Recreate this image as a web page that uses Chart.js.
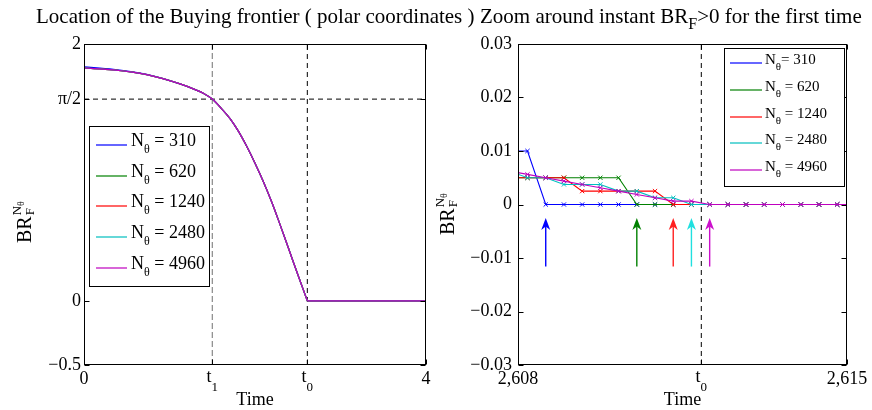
<!DOCTYPE html>
<html>
<head>
<meta charset="utf-8">
<script src="https://cdn.jsdelivr.net/npm/chart.js@4"></script>
<style>
  body { margin: 0; background: #fff; }
  #wrap { position: relative; width: 872px; height: 410px; }
  canvas { position: absolute; top: 0; }
</style>
</head>
<body>
<div id="wrap">
  <canvas id="chart-left" width="480" height="410" style="left:0"></canvas>
  <canvas id="chart-right" width="436" height="410" style="left:436px"></canvas>
</div>
<script>
// series
const seriesN = ['310', '620', '1240', '2480', '4960'];
const seriesColors = ['#0000ff', '#008000', '#ff0000', '#00bfbf', '#bf00bf'];

const t1 = 1.5;
const t0 = 2.6119;

// left plot : whole trajectory
const leftTime  = [0, 0.343, 0.733, 1.123, 1.3, 1.4, 1.5, 1.6, 1.708, 1.8, 1.903, 2.0, 2.097, 2.2, 2.292, 2.37, 2.448, 2.53, 2.6119];
const leftBR    = [1.813, 1.798, 1.761, 1.689, 1.645, 1.615, 1.571, 1.503, 1.419, 1.327, 1.203, 1.072, 0.930, 0.762, 0.595, 0.450, 0.302, 0.150, 0];
const leftBR310 = [1.822, 1.803, 1.763, 1.689, 1.645, 1.615, 1.571, 1.503, 1.419, 1.327, 1.203, 1.072, 0.930, 0.762, 0.595, 0.450, 0.302, 0.150, 0];
const leftTailTime = [2.6119, 4];
const leftTail = [0, 0];
const leftXTicks = [0, t1, t0, 4];
const leftXLabels = ['0', '', '', '4'];
const leftYTicks = [-0.5, 0, Math.PI / 2, 2];
const leftYLabels = ['\u22120.5', '0', '\u03c0/2', '2'];

// right plot : zoom around t0
const rightTime = [2.607814, 2.608202, 2.608590, 2.608977, 2.609365, 2.609752, 2.610140, 2.610528, 2.610915, 2.611303,
                   2.611690, 2.612078, 2.612466, 2.612853, 2.613241, 2.613628, 2.614016, 2.614404, 2.614791, 2.615179];
const br310  = [0.01, 0.01, 0, 0, 0, 0, 0, 0, 0, 0, 0, 0, 0, 0, 0, 0, 0, 0, 0, 0];
const br620  = [0.005, 0.005, 0.005, 0.005, 0.005, 0.005, 0.005, 0, 0, 0, 0, 0, 0, 0, 0, 0, 0, 0, 0, 0];
const br1240 = [0.005, 0.005, 0.005, 0.005, 0.0025, 0.0025, 0.0025, 0.0025, 0.0025, 0, 0, 0, 0, 0, 0, 0, 0, 0, 0, 0];
const br2480 = [0.00625, 0.005, 0.005, 0.00375, 0.00375, 0.00375, 0.0025, 0.0025, 0.00125, 0.00125, 0, 0, 0, 0, 0, 0, 0, 0, 0, 0];
const br4960 = [0.00625, 0.005625, 0.005, 0.004375, 0.00375, 0.003125, 0.0025, 0.001875, 0.00125, 0.000625, 0.000625, 0, 0, 0, 0, 0, 0, 0, 0, 0];
const rightXTicks = [2.608, t0, 2.615];
const rightXLabels = ['2,608', '', '2,615'];
const rightYTicks = [-0.03, -0.02, -0.01, 0, 0.01, 0.02, 0.03];
const rightYLabels = ['\u22120.03', '\u22120.02', '\u22120.01', '0', '0.01', '0.02', '0.03'];

// arrows : first instant where BR > 0
const arrowTime = [2.608590, 2.610528, 2.611303, 2.611690, 2.612078];
const arrowColors = ['#0000ff', '#008000', '#ff2020', '#20e0e0', '#cc10cc'];
const arrowFrom = -0.0116;
const arrowTo = -0.0025;

const FONT = "'Liberation Serif', 'Times New Roman', serif";

function pts(xs, ys) {
    return xs.map((x, i) => ({ x: x, y: ys[i] }));
}

function piece(ctx, x, y, text, size) {
    ctx.font = size + 'px ' + FONT;
    ctx.fillText(text, x, y);
    return ctx.measureText(text).width;
}

// box + inward tick marks
const framePlugin = {
    id: 'frame',
    afterDatasetsDraw(chart) {
        const ctx = chart.ctx;
        const a = chart.chartArea;
        const L = Math.round(a.left) + 0.5, R = Math.round(a.right) - 0.5;
        const T = Math.round(a.top) + 0.5, B = Math.round(a.bottom) - 0.5;
        ctx.save();
        ctx.strokeStyle = '#000';
        ctx.lineWidth = 1;
        ctx.strokeRect(L, T, R - L, B - T);
        ctx.beginPath();
        chart.scales.x.ticks.forEach(t => {
            const px = Math.round(chart.scales.x.getPixelForValue(t.value)) + 0.5;
            ctx.moveTo(px, B); ctx.lineTo(px, B - 5);
            ctx.moveTo(px, T); ctx.lineTo(px, T + 5);
        });
        chart.scales.y.ticks.forEach(t => {
            const py = Math.round(chart.scales.y.getPixelForValue(t.value)) + 0.5;
            ctx.moveTo(L, py); ctx.lineTo(L + 5, py);
            ctx.moveTo(R, py); ctx.lineTo(R - 5, py);
        });
        ctx.stroke();
        ctx.restore();
    }
};

// titles, axis labels with sub/superscripts, legend
const mathPlugin = {
    id: 'mathText',
    afterDraw(chart, args, o) {
        const ctx = chart.ctx;
        ctx.save();
        ctx.fillStyle = '#000';
        ctx.textBaseline = 'alphabetic';
        ctx.textAlign = 'left';

        // title
        let x = o.titleX;
        o.title.forEach(p => {
            x += piece(ctx, x, o.titleY + (p.dy || 0), p.text, p.size || 21);
        });

        // t ticks
        o.tTicks.forEach(tt => {
            ctx.font = '18px ' + FONT;
            const wt = ctx.measureText('t').width;
            ctx.font = '13px ' + FONT;
            const ws = ctx.measureText(tt.sub).width;
            const px = chart.scales.x.getPixelForValue(tt.value);
            const sx = px - (wt + ws) / 2;
            piece(ctx, sx, 382, 't', 18);
            piece(ctx, sx + wt, 391, tt.sub, 13);
        });

        // x label
        ctx.font = '18px ' + FONT;
        const xl = 'Time';
        const xc = (chart.chartArea.left + chart.chartArea.right) / 2;
        piece(ctx, xc - ctx.measureText(xl).width / 2, 405, xl, 18);

        // y label
        ctx.save();
        ctx.translate(o.ylabX, o.ylabY);
        ctx.rotate(-Math.PI / 2);
        const wBR = piece(ctx, 0, 0, 'BR', 20);
        const wN = piece(ctx, wBR + 1, -10, 'N', 13);
        piece(ctx, wBR + 1, 3, 'F', 13);
        piece(ctx, wBR + 1 + wN, -7, '\u03b8', 10);
        ctx.restore();

        // legend
        const lg = o.legend;
        ctx.fillStyle = '#fff';
        ctx.fillRect(lg.x, lg.y, lg.w, lg.h);
        ctx.strokeStyle = '#000';
        ctx.lineWidth = 1;
        ctx.strokeRect(lg.x + 0.5, lg.y + 0.5, lg.w, lg.h);
        seriesN.forEach((n, i) => {
            const y = lg.row0 + i * lg.step;
            ctx.strokeStyle = seriesColors[i];
            ctx.lineWidth = 1.2;
            ctx.beginPath();
            ctx.moveTo(lg.lineX0, Math.round(y));
            ctx.lineTo(lg.lineX1, Math.round(y));
            ctx.stroke();
            ctx.fillStyle = '#000';
            let tx = lg.textX;
            tx += piece(ctx, tx, y + 1, 'N', lg.size);
            tx += piece(ctx, tx, y + 1 + lg.subDrop, '\u03b8', lg.subSize);
            const eq = (lg.tightFirst && i === 0) ? '= ' + n : ' = ' + n;
            piece(ctx, tx, y + 1, eq, lg.size);
        });
        ctx.restore();
    }
};

// arrows under the zoom
const arrowPlugin = {
    id: 'arrows',
    afterDatasetsDraw(chart) {
        if (!chart.options.plugins.arrows || !chart.options.plugins.arrows.show) return;
        const ctx = chart.ctx;
        const xs = chart.scales.x, ys = chart.scales.y;
        ctx.save();
        arrowTime.forEach((t, i) => {
            const px = xs.getPixelForValue(t);
            const yb = ys.getPixelForValue(arrowFrom);
            const yt = ys.getPixelForValue(arrowTo);
            ctx.strokeStyle = arrowColors[i];
            ctx.fillStyle = arrowColors[i];
            ctx.lineWidth = 1.4;
            ctx.beginPath();
            ctx.moveTo(px, yb);
            ctx.lineTo(px, yt + 6);
            ctx.stroke();
            ctx.beginPath();
            ctx.moveTo(px, yt);
            ctx.lineTo(px - 4.5, yt + 12);
            ctx.lineTo(px, yt + 8.5);
            ctx.lineTo(px + 4.5, yt + 12);
            ctx.closePath();
            ctx.fill();
        });
        ctx.restore();
    }
};

function tickFont() {
    return { family: FONT, size: 18 };
}

// ---------- left chart ----------
const leftDatasets = [
    { data: pts([t1, t1], [-0.5, 2]), borderColor: '#707070', borderDash: [6, 3], borderWidth: 1, order: 10 },
    { data: pts([t0, t0], [-0.5, 2]), borderColor: '#000', borderDash: [5, 4], borderWidth: 1, order: 10 },
    { data: pts([0, 4], [Math.PI / 2, Math.PI / 2]), borderColor: '#000', borderDash: [5, 4], borderWidth: 1, order: 10 }
];
seriesN.forEach((n, i) => {
    leftDatasets.push({
        label: 'N = ' + n,
        data: pts(leftTime, i === 0 ? leftBR310 : leftBR),
        borderColor: seriesColors[i],
        cubicInterpolationMode: 'monotone',
        order: 4 - i
    });
    leftDatasets.push({
        data: pts(leftTailTime, leftTail),
        borderColor: seriesColors[i],
        order: 4 - i
    });
});

new Chart(document.getElementById('chart-left'), {
    type: 'line',
    data: { datasets: leftDatasets },
    options: {
        responsive: false,
        animation: false,
        devicePixelRatio: 1,
        layout: { padding: { top: 44, right: 54, left: 0, bottom: 0 } },
        elements: { point: { radius: 0 }, line: { borderWidth: 1.2 } },
        scales: {
            x: {
                type: 'linear', min: 0, max: 4,
                afterBuildTicks: s => { s.ticks = leftXTicks.map(v => ({ value: v })); },
                afterFit: s => { s.height = 45; },
                grid: { display: false, drawTicks: false },
                border: { display: false },
                ticks: { autoSkip: false, maxRotation: 0, padding: 3, color: '#000', font: tickFont(),
                         callback: (v, i) => leftXLabels[i] }
            },
            y: {
                type: 'linear', min: -0.5, max: 2,
                afterBuildTicks: s => { s.ticks = leftYTicks.map(v => ({ value: v })); },
                afterFit: s => { s.width = 84; },
                grid: { display: false, drawTicks: false },
                border: { display: false },
                ticks: { autoSkip: false, padding: 3, color: '#000', font: tickFont(),
                         callback: (v, i) => leftYLabels[i] }
            }
        },
        plugins: {
            legend: { display: false },
            tooltip: { enabled: false },
            mathText: {
                titleX: 36, titleY: 23,
                title: [{ text: 'Location of the Buying frontier ( polar coordinates )' }],
                tTicks: [{ value: t1, sub: '1' }, { value: t0, sub: '0' }],
                ylabX: 31, ylabY: 243,
                legend: { x: 89, y: 126, w: 120, h: 160, row0: 145, step: 30.7,
                          lineX0: 96, lineX1: 127, textX: 131, size: 18, subSize: 12, subDrop: 7 }
            }
        }
    },
    plugins: [framePlugin, mathPlugin]
});

// ---------- right chart ----------
const rightSeries = [br310, br620, br1240, br2480, br4960];
const rightDatasets = [
    { data: pts([t0, t0], [-0.03, 0.03]), borderColor: '#000', borderDash: [5, 4], borderWidth: 1, pointRadius: 0, order: 10 }
];
seriesN.forEach((n, i) => {
    rightDatasets.push({
        label: 'N = ' + n,
        data: pts(rightTime, rightSeries[i]),
        borderColor: seriesColors[i],
        pointStyle: 'crossRot',
        pointRadius: 3,
        pointBorderWidth: 1,
        pointBorderColor: seriesColors[i],
        order: 4 - i
    });
});

new Chart(document.getElementById('chart-right'), {
    type: 'line',
    data: { datasets: rightDatasets },
    options: {
        responsive: false,
        animation: false,
        devicePixelRatio: 1,
        layout: { padding: { top: 44, right: 25, left: 0, bottom: 0 } },
        elements: { line: { borderWidth: 1.1 } },
        scales: {
            x: {
                type: 'linear', min: 2.608, max: 2.615,
                afterBuildTicks: s => { s.ticks = rightXTicks.map(v => ({ value: v })); },
                afterFit: s => { s.height = 45; },
                grid: { display: false, drawTicks: false },
                border: { display: false },
                ticks: { autoSkip: false, maxRotation: 0, padding: 3, color: '#000', font: tickFont(),
                         callback: (v, i) => rightXLabels[i] }
            },
            y: {
                type: 'linear', min: -0.03, max: 0.03,
                afterBuildTicks: s => { s.ticks = rightYTicks.map(v => ({ value: v })); },
                afterFit: s => { s.width = 82; },
                grid: { display: false, drawTicks: false },
                border: { display: false },
                ticks: { autoSkip: false, padding: 6, color: '#000', font: tickFont(),
                         callback: (v, i) => rightYLabels[i] }
            }
        },
        plugins: {
            legend: { display: false },
            tooltip: { enabled: false },
            arrows: { show: true },
            mathText: {
                titleX: 44, titleY: 23,
                title: [{ text: 'Zoom around instant BR' }, { text: 'F', size: 16, dy: 6 }, { text: '>0 for the first time' }],
                tTicks: [{ value: t0, sub: '0' }],
                ylabX: 17.5, ylabY: 235,
                legend: { x: 288, y: 48, w: 120, h: 138, row0: 63, step: 26.8,
                          lineX0: 294, lineX1: 326, textX: 329, size: 15, subSize: 11, subDrop: 6, tightFirst: true }
            }
        }
    },
    plugins: [framePlugin, mathPlugin, arrowPlugin]
});
</script>
</body>
</html>
